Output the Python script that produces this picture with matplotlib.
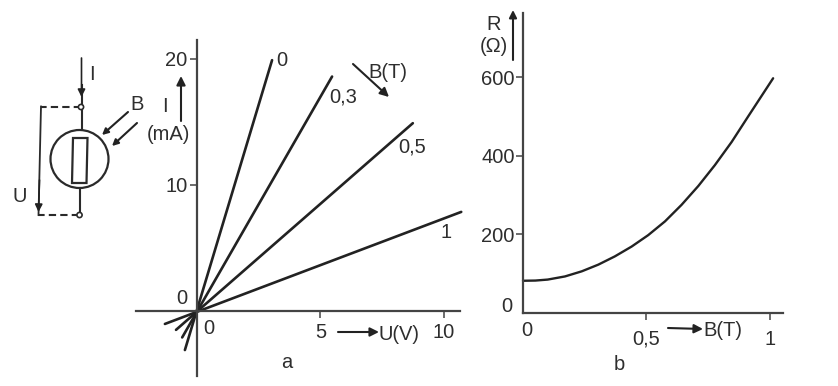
import matplotlib
matplotlib.use('Agg')
import matplotlib.pyplot as plt
from matplotlib.patches import Circle, Polygon

plt.rcParams['font.family'] = ['Liberation Sans', 'DejaVu Sans']

# === panel a: I(U) for each B, read as the two ends of each line
b_labels = ['0', '0,3', '0,5', '1']
u_ends = [[-0.49, 3.04], [-0.6, 5.47], [-0.85, 8.74], [-1.3, 10.7]]
i_ends = [[-3.1, 19.9], [-2.1, 18.6], [-1.5, 14.9], [-1.03, 7.86]]
u_ticks = [5, 10]
i_ticks = [10, 20]

# === panel b: R(B)
b_vals = [0.0, 0.05, 0.10, 0.17, 0.238, 0.305, 0.372, 0.44, 0.507, 0.575, 0.642, 0.71, 0.777, 0.845, 0.912, 1.013]
r_vals = [82, 82.5, 85, 93, 106, 123, 144, 169, 198, 233, 275, 323, 376, 435, 500, 597]
b_ticks = [0.5, 1]
b_ticklabels = ['0,5', '1']
r_ticks = [200, 400, 600]

W, H = 838, 386
INK = '#2e2e2e'
FS = 14.5


def axes_px(fig, left, right, top, bottom):
    return fig.add_axes([left / W, 1 - bottom / H, (right - left) / W, (bottom - top) / H])


def style_axes(ax):
    ax.patch.set_alpha(0)
    for s in ['top', 'right']:
        ax.spines[s].set_visible(False)
    for s in ['left', 'bottom']:
        ax.spines[s].set_linewidth(1.6)
        ax.spines[s].set_color('#444444')
    ax.tick_params(length=5, width=1.1, color='#444444', labelsize=FS, labelcolor=INK, pad=2)


fig = plt.figure(figsize=(W / 100, H / 100), dpi=100)

# --- a
ax_a = axes_px(fig, 136, 460, 40, 376)
ax_a.set_xlim(-2.47, 10.65)
ax_a.set_ylim(-5.16, 21.5)
style_axes(ax_a)
ax_a.spines['left'].set_position(('data', 0))
ax_a.spines['bottom'].set_position(('data', 0))
for u, i in zip(u_ends, i_ends):
    ax_a.plot(u, i, color='#222222', lw=1.9, solid_capstyle='round', clip_on=False)
ax_a.set_xticks(u_ticks)
ax_a.set_yticks(i_ticks)
ax_a.tick_params(axis='x', pad=4)

# --- b
ax_b = axes_px(fig, 523, 783, 13, 313)
ax_b.set_xlim(0, 1.053)
ax_b.set_ylim(0, 763)
style_axes(ax_b)
ax_b.plot(b_vals, r_vals, color='#222222', lw=1.7, solid_capstyle='round', clip_on=False)
ax_b.set_xticks(b_ticks)
ax_b.set_xticklabels(b_ticklabels)
ax_b.set_yticks(r_ticks)
ax_b.tick_params(axis='x', pad=7)
ax_b.tick_params(axis='y', pad=1)

# --- overlay in pixels: labels, arrows and the circuit symbol
ov = fig.add_axes([0, 0, 1, 1])
ov.set_xlim(0, W)
ov.set_ylim(H, 0)
ov.axis('off')


def label(x, y, s):
    ov.text(x, y, s, fontsize=FS, color=INK, ha='center', va='center')


def arrow(x0, y0, x1, y1, lw=1.5, scale=13):
    ov.annotate('', xy=(x1, y1), xytext=(x0, y0),
                arrowprops=dict(arrowstyle='-|>', color='#222222', lw=lw,
                                mutation_scale=scale, shrinkA=0, shrinkB=0))


def wire(xs, ys, **kw):
    ov.plot(xs, ys, color='#2a2a2a', lw=kw.pop('lw', 1.5), **kw)


# line labels of panel a
label_xy = [(282, 60), (343, 97), (412, 147), (446, 233)]
for (x, y), s in zip(label_xy, b_labels):
    label(x, y, s)
label(388, 72, 'B(T)')
arrow(353, 64, 389, 97)
label(182, 299, '0')
label(209, 328, '0')
label(399, 334, 'U(V)')
arrow(338, 332, 379, 332)
label(287, 363, 'a')
label(165, 107, 'I')
label(168, 135, '(mA)')
arrow(181, 121, 181, 76)

# labels of panel b
label(507, 306, '0')
label(527, 330, '0')
label(723, 331, 'B(T)')
arrow(668, 328, 703, 329)
label(619, 365, 'b')
label(494, 25, 'R')
label(494, 46, '(Ω)')
arrow(513, 60, 513, 10, scale=11)

# circuit symbol
wire([81.5, 81.5], [85, 130])
wire([79.5, 79.5], [188, 215])
arrow(81.5, 58, 81.5, 97, lw=1.2, scale=11)
ov.add_patch(Circle((79.5, 159), 29, fill=False, ec='#2a2a2a', lw=1.6))
ov.add_patch(Polygon([(73, 138), (87.5, 138), (86.5, 183), (72, 183)], closed=True,
                     fc='white', ec='#2a2a2a', lw=1.6, zorder=3))
wire([81, 41], [106.5, 106.5], ls=(0, (3.5, 2)))
wire([79, 38], [215, 215], ls=(0, (3.5, 2)))
wire([41, 38.5], [106.5, 215], lw=1.3)
arrow(39.5, 180, 38.5, 212, lw=1.2, scale=11)
for x, y in [(81, 107), (79.5, 215)]:
    ov.add_patch(Circle((x, y), 2.6, fc='white', ec='#2a2a2a', lw=1.2, zorder=3))
label(92, 75, 'I')
label(137, 105, 'B')
label(20, 197, 'U')
arrow(128, 112, 102, 135, scale=9)
arrow(137, 123, 112, 146, scale=9)

fig.savefig('out.png', dpi=100)
